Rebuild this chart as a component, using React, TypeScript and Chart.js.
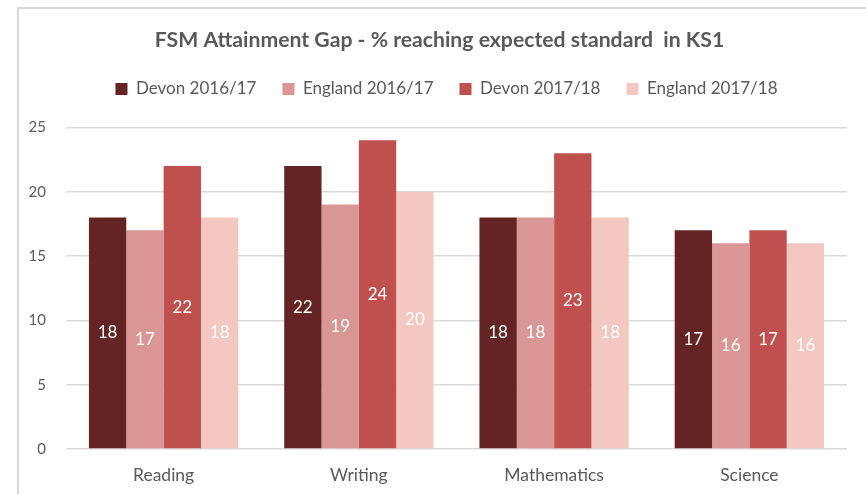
import React, { useEffect, useRef } from "react";
import { Chart, registerables } from "chart.js";

Chart.register(...registerables);

const categories = ["Reading", "Writing", "Mathematics", "Science"];
const devon1617 = [18, 22, 18, 17];
const england1617 = [17, 19, 18, 16];
const devon1718 = [22, 24, 23, 17];
const england1718 = [18, 20, 18, 16];
const seriesNames = ["Devon 2016/17", "England 2016/17", "Devon 2017/18", "England 2017/18"];
const seriesColors = ["#632423", "#D99694", "#C0504D", "#F2C8C1"];
const yTicks = [0, 5, 10, 15, 20, 25];
const titleText = "FSM Attainment Gap - % reaching expected standard  in KS1";

const FONT = "Lato, 'Open Sans', sans-serif";

const valueLabels = {
  id: "valueLabels",
  afterDatasetsDraw(chart: any) {
    const ctx = chart.ctx;
    ctx.save();
    ctx.font = `17px ${FONT}`;
    ctx.fillStyle = "#ffffff";
    ctx.textAlign = "center";
    ctx.textBaseline = "middle";
    chart.data.datasets.forEach((ds: any, i: number) => {
      const meta = chart.getDatasetMeta(i);
      meta.data.forEach((bar: any, j: number) => {
        const v = ds.data[j];
        const y = (bar.y + bar.base) / 2;
        ctx.fillText(String(v), bar.x, y);
      });
    });
    ctx.restore();
  },
};

const headerAdjust = {
  id: "headerAdjust",
  beforeInit(chart: any) {
    const legend = chart.legend;
    if (!legend) return;
    const origFit = legend.fit;
    legend.fit = function () {
      origFit.call(this);
      this.height += 20;
    };
  },
  afterLayout(chart: any) {
    const t = chart.titleBlock;
    if (t) {
      t.left += 16;
      t.right += 16;
    }
    const l = chart.legend;
    if (l) {
      l.left += 23;
      l.right += 23;
    }
  },
};

export default function App() {
  const ref = useRef<HTMLCanvasElement>(null);
  useEffect(() => {
    if (!ref.current) return;
    const data = [devon1617, england1617, devon1718, england1718];
    const chart = new Chart(ref.current, {
      type: "bar",
      data: {
        labels: categories,
        datasets: data.map((d, i) => ({
          label: seriesNames[i],
          data: d,
          backgroundColor: seriesColors[i],
          borderWidth: 0,
          categoryPercentage: 0.765,
          barPercentage: 1.0,
        })),
      },
      options: {
        responsive: false,
        animation: false,
        devicePixelRatio: 1,
        layout: { padding: { left: 0, right: 19, top: 0, bottom: 0 } },
        plugins: {
          title: {
            display: true,
            text: titleText,
            color: "#595959",
            font: { family: FONT, size: 21.2, weight: "bold" },
            padding: { top: 27, bottom: 2 },
          },
          legend: {
            display: true,
            position: "top",
            labels: {
              color: "#595959",
              font: { family: FONT, size: 17 },
              boxWidth: 12,
              boxHeight: 12,
              padding: 26,
            },
          },
          tooltip: { enabled: false },
        },
        scales: {
          x: {
            grid: { display: false, drawTicks: false },
            border: { display: false },
            ticks: { color: "#595959", font: { family: FONT, size: 17.5 }, padding: 16 },
            afterFit(scale: any) {
              scale.height = 45;
            },
          },
          y: {
            min: 0,
            max: 25,
            afterBuildTicks(scale: any) {
              scale.ticks = yTicks.map((v) => ({ value: v }));
            },
            grid: { color: "#d9d9d9", lineWidth: 1.5, drawTicks: false },
            border: { display: false },
            ticks: { color: "#595959", font: { family: FONT, size: 15 }, padding: 20 },
            afterFit(scale: any) {
              scale.width = 66;
            },
          },
        },
      },
      plugins: [headerAdjust, valueLabels],
    });
    return () => chart.destroy();
  }, []);

  return (
    <div style={{ position: "fixed", left: 0, top: 0, width: 866, height: 494, overflow: "hidden", background: "#fff" }}>
      <div
        style={{
          position: "absolute",
          left: 17,
          top: 7,
          width: 900,
          height: 520,
          borderLeft: "2px solid #d9d9d9",
          borderTop: "2px solid #d9d9d9",
        }}
      />
      <canvas ref={ref} width={866} height={494} style={{ position: "absolute", left: 0, top: 0 }} />
    </div>
  );
}
